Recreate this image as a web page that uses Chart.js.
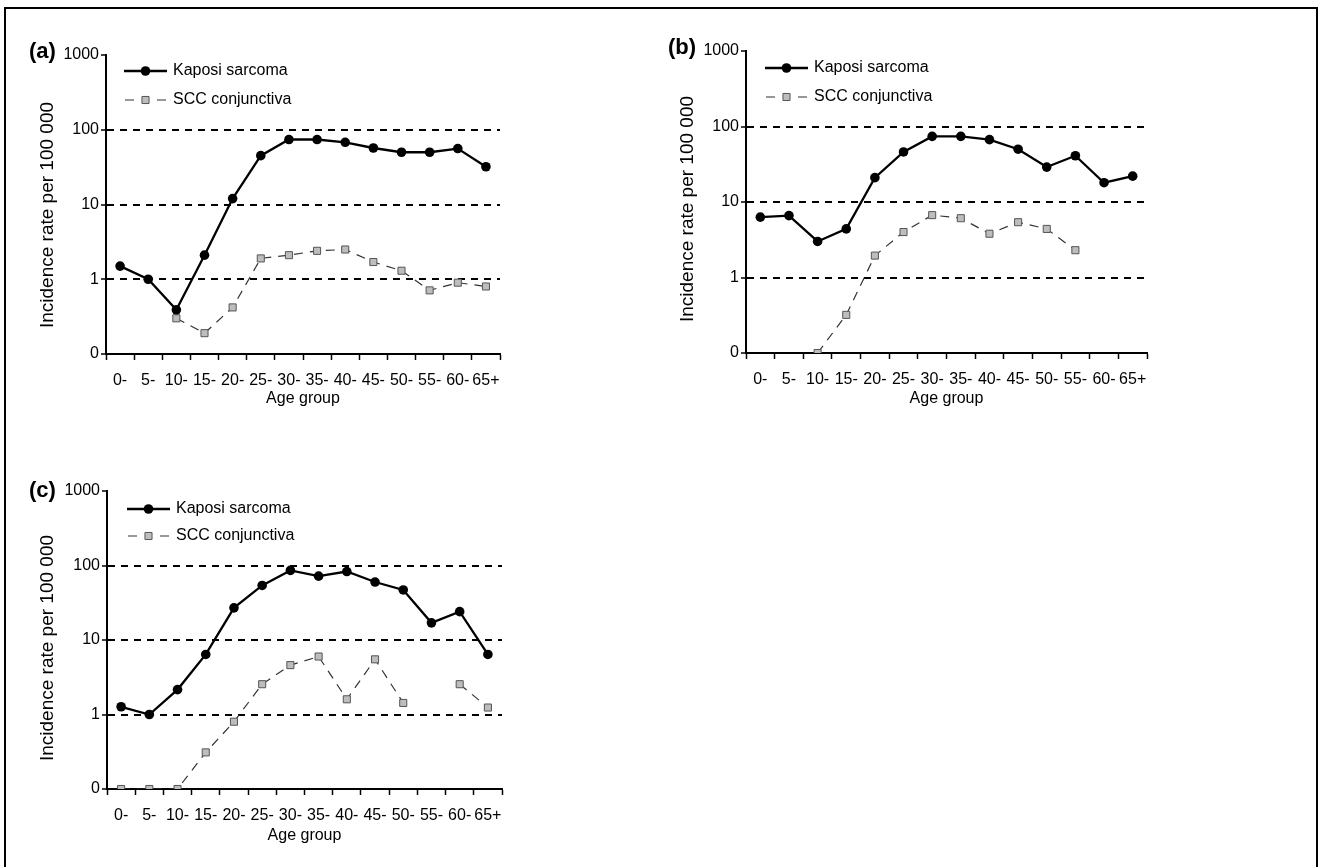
<!DOCTYPE html>
<html>
<head>
<meta charset="utf-8">
<title>Kaposi sarcoma and SCC conjunctiva by age group</title>
<script src="https://cdn.jsdelivr.net/npm/chart.js@4.4.1/dist/chart.umd.min.js"></script>
<style>
  body { margin: 0; background: #fff; font-family: "Liberation Sans", Arial, sans-serif; }
  .frame { position: absolute; left: 4px; top: 7px; width: 1310px; height: 900px; border: 2px solid #000; border-bottom: none; }
  .panel { position: absolute; }
  .tag { position: absolute; font-weight: bold; font-size: 22px; line-height: 22px; color: #000; }
</style>
</head>
<body>
<div class="frame"></div>

<div class="panel" style="left:0px; top:0px;"><canvas id="chartA" width="530" height="420"></canvas></div>
<div class="panel" style="left:640px; top:0px;"><canvas id="chartB" width="530" height="420"></canvas></div>
<div class="panel" style="left:0px; top:436px;"><canvas id="chartC" width="530" height="420"></canvas></div>

<div class="tag" style="left:29px; top:40px;">(a)</div>
<div class="tag" style="left:668px; top:36px;">(b)</div>
<div class="tag" style="left:29px; top:479px;">(c)</div>

<script>
// Age groups and axis ticks
const ageGroups = ['0-', '5-', '10-', '15-', '20-', '25-', '30-', '35-', '40-', '45-', '50-', '55-', '60-', '65+'];
const yTickValues = [0, 1, 10, 100, 1000];
const yTickLabels = ['0', '1', '10', '100', '1000'];
const seriesNames = ['Kaposi sarcoma', 'SCC conjunctiva'];
const yTitle = 'Incidence rate per 100 000';

// Incidence rate per 100 000 (null = no point)
const kaposiA = [1.5, 1.0, 0.39, 2.1, 12, 45, 74, 74, 68, 57, 50, 50, 56, 32];
const sccA    = [null, null, 0.3, 0.19, 0.42, 1.9, 2.1, 2.4, 2.5, 1.7, 1.3, 0.71, 0.9, 0.8];

const kaposiB = [6.3, 6.6, 3.0, 4.4, 21, 46, 74, 74, 67, 50, 29, 41, 18, 22];
const sccB    = [null, null, 0, 0.32, 1.95, 4.0, 6.7, 6.1, 3.8, 5.4, 4.4, 2.3, null, null];

const kaposiC = [1.27, 1.0, 2.16, 6.4, 27, 54, 86, 72, 83, 60, 47, 17, 24, 6.4];
const sccC    = [0, 0, 0, 0.31, 0.8, 2.55, 4.6, 6.0, 1.6, 5.5, 1.43, null, 2.55, 1.24];

// the "0" line of the log axis sits one decade below 1
const AXIS_FLOOR = 0.1;
function plotValue(v) {
    if (v === null) return null;
    return v === 0 ? AXIS_FLOOR : v;
}

const FONT = '"Liberation Sans", Arial, sans-serif';

// legend drawn inside the plot area (line sample + marker + label),
// plus the rotated y title placed a bit below the axis middle like the original
const insideLegend = {
    id: 'insideLegend',
    afterDatasetsDraw(chart, args, opts) {
        const ctx = chart.ctx;
        chart.data.datasets.forEach(function(ds, i) {
            const y = opts.y + i * opts.rowGap;
            const x0 = opts.x;
            const x1 = opts.x + opts.sample;
            const mid = (x0 + x1) / 2;
            ctx.save();
            ctx.strokeStyle = ds.borderColor;
            ctx.lineWidth = ds.borderWidth;
            ctx.beginPath();
            if (ds.borderDash && ds.borderDash.length) {
                ctx.moveTo(x0 + 1, y); ctx.lineTo(x0 + 10, y);
                ctx.moveTo(x1 - 10, y); ctx.lineTo(x1 - 1, y);
            } else {
                ctx.moveTo(x0, y); ctx.lineTo(x1, y);
            }
            ctx.stroke();

            ctx.fillStyle = ds.pointBackgroundColor;
            ctx.strokeStyle = ds.pointBorderColor;
            ctx.lineWidth = ds.pointBorderWidth;
            ctx.beginPath();
            if (ds.pointStyle === 'rect') {
                const s = ds.pointRadius * Math.SQRT1_2;
                ctx.rect(mid - s, y - s, 2 * s, 2 * s);
            } else {
                ctx.arc(mid, y, ds.pointRadius, 0, Math.PI * 2);
            }
            ctx.fill();
            if (ds.pointBorderWidth) ctx.stroke();

            ctx.fillStyle = '#000';
            ctx.font = '16px ' + FONT;
            ctx.textBaseline = 'middle';
            ctx.textAlign = 'left';
            ctx.fillText(ds.label, x1 + opts.textGap, y);
            ctx.restore();
        });

        ctx.save();
        ctx.translate(opts.titleX, opts.titleY);
        ctx.rotate(-Math.PI / 2);
        ctx.fillStyle = '#000';
        ctx.font = '19px ' + FONT;
        ctx.textAlign = 'center';
        ctx.textBaseline = 'middle';
        ctx.fillText(yTitle, 0, 0);
        ctx.restore();
    }
};

function makeChart(id, kaposi, scc, box) {
    new Chart(document.getElementById(id), {
        type: 'line',
        data: {
            labels: ageGroups,
            datasets: [
                {
                    label: seriesNames[0],
                    data: kaposi.map(plotValue),
                    borderColor: '#000',
                    borderWidth: 2.3,
                    pointStyle: 'circle',
                    pointRadius: 4.8,
                    pointBackgroundColor: '#000',
                    pointBorderColor: '#000',
                    pointBorderWidth: 0,
                    tension: 0
                },
                {
                    label: seriesNames[1],
                    data: scc.map(plotValue),
                    borderColor: '#333',
                    borderWidth: 1.2,
                    borderDash: [9, 7],
                    pointStyle: 'rect',
                    pointRadius: 5,
                    pointBackgroundColor: '#bdbdbd',
                    pointBorderColor: '#555',
                    pointBorderWidth: 1,
                    tension: 0
                }
            ]
        },
        options: {
            responsive: false,
            animation: false,
            layout: {
                padding: { top: box.top, right: box.right, left: 0, bottom: 0 }
            },
            plugins: {
                legend: { display: false },
                tooltip: { enabled: false },
                insideLegend: box.legend
            },
            scales: {
                x: {
                    type: 'category',
                    offset: true,
                    afterFit: function(scale) { scale.height = box.xHeight; },
                    ticks: {
                        color: '#000',
                        font: { size: 16, family: FONT },
                        padding: 11,
                        autoSkip: false,
                        maxRotation: 0
                    },
                    grid: {
                        offset: true,
                        drawOnChartArea: false,
                        drawTicks: true,
                        tickLength: 6,
                        tickColor: '#000',
                        tickWidth: 1.5
                    },
                    border: { color: '#000', width: 2 },
                    title: {
                        display: true,
                        text: 'Age group',
                        color: '#000',
                        font: { size: 16, family: FONT },
                        padding: { top: 0, bottom: box.xTitlePad }
                    }
                },
                y: {
                    type: 'logarithmic',
                    min: AXIS_FLOOR,
                    max: 1000,
                    afterFit: function(scale) { scale.width = box.yWidth; },
                    afterBuildTicks: function(scale) {
                        scale.ticks = yTickValues.map(function(v) { return { value: plotValue(v) }; });
                    },
                    ticks: {
                        color: '#000',
                        font: { size: 16, family: FONT },
                        padding: 2,
                        autoSkip: false,
                        callback: function(value, index) { return yTickLabels[index]; }
                    },
                    grid: {
                        color: function(c) {
                            return (c.index > 0 && c.index < yTickValues.length - 1) ? '#000' : 'rgba(0,0,0,0)';
                        },
                        lineWidth: 2,
                        tickColor: '#000',
                        tickLength: 5,
                        tickWidth: 1.5
                    },
                    border: { display: true, color: '#000', width: 2, dash: [7, 6] }
                }
            }
        },
        plugins: [insideLegend]
    });
}

makeChart('chartA', kaposiA, sccA, {
    top: 55, right: 30, xHeight: 66, yWidth: 106, xTitlePad: 12,
    legend: { x: 124, y: 71, rowGap: 29, sample: 43, textGap: 6, titleX: 48, titleY: 215 }
});
makeChart('chartB', kaposiB, sccB, {
    top: 51, right: 23, xHeight: 67, yWidth: 106, xTitlePad: 12,
    legend: { x: 125, y: 68, rowGap: 29, sample: 43, textGap: 6, titleX: 48, titleY: 209 }
});
makeChart('chartC', kaposiC, sccC, {
    top: 55, right: 28, xHeight: 67, yWidth: 107, xTitlePad: 11,
    legend: { x: 127, y: 73, rowGap: 27, sample: 43, textGap: 6, titleX: 48, titleY: 212 }
});
</script>
</body>
</html>
